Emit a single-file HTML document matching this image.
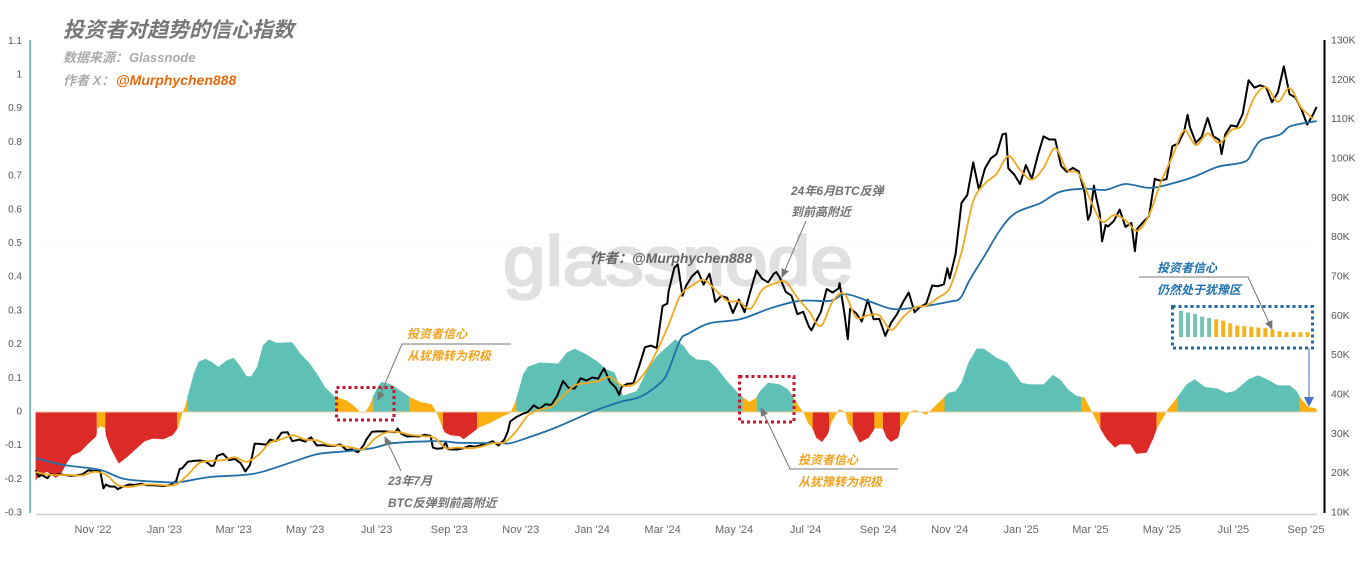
<!DOCTYPE html>
<html lang="zh">
<head>
<meta charset="utf-8">
<title>投资者对趋势的信心指数</title>
<style>
html,body{margin:0;padding:0;background:#fff;width:1368px;height:561px;overflow:hidden}
svg{display:block;filter:blur(.35px)}
text{font-family:"Liberation Sans","Noto Sans CJK SC",sans-serif}
.note{font-size:12px;font-style:italic;font-weight:bold}
.t-org{fill:#f0a21c}.t-gry{fill:#727272}.t-blu{fill:#1a6fae}
.lead{fill:none;stroke:#777;stroke-width:1}
</style>
</head>
<body>
<svg id="chart" xmlns="http://www.w3.org/2000/svg" width="1368" height="561" viewBox="0 0 1368 561">
<defs>
<marker id="ah" markerWidth="10" markerHeight="10" refX="8" refY="4" orient="auto" markerUnits="userSpaceOnUse"><path d="M0,0 L9,4 L0,8 Z" fill="#777"/></marker>
<marker id="ahb" markerWidth="12" markerHeight="10" refX="9" refY="5" orient="auto" markerUnits="userSpaceOnUse"><path d="M0,0 L10,5 L0,10 Z" fill="#4472c4"/></marker>
</defs>
<rect width="1368" height="561" fill="#fff"/>
<g id="grid"></g>
<text x="503" y="285" font-size="70" textLength="350" lengthAdjust="spacingAndGlyphs" fill="#e0e0e0" stroke="#e0e0e0" stroke-width="2.4">glassnode</text>
<g id="area"></g>
<g id="lines"></g>
<g id="axes"></g>

<text x="63" y="37" font-size="21" font-weight="bold" font-style="italic" fill="#777">投资者对趋势的信心指数</text>
<text x="63" y="62" font-size="13" font-weight="bold" font-style="italic" fill="#aaa">数据来源：<tspan dx="1">Glassnode</tspan></text>
<text x="63" y="85" font-size="13" font-style="italic" font-weight="bold" fill="#aaa">作者 X：</text>
<text x="116" y="85" font-size="14" font-style="italic" font-weight="bold" fill="#e8690c">@Murphychen888</text>
<text x="590" y="263" font-size="14" font-style="italic" font-weight="bold" fill="#666">作者：@Murphychen888</text>

<g>
<text class="note t-org" x="407" y="338">投资者信心</text>
<text class="note t-org" x="407" y="360">从犹豫转为积极</text>
<polyline class="lead" points="511,344 402,344 378,400" marker-end="url(#ah)"/>
<rect x="336.5" y="387.5" width="57.5" height="32.5" fill="none" stroke="#c8142e" stroke-width="3" stroke-dasharray="3 3"/>
</g>
<g>
<text class="note t-gry" x="388" y="485">23年7月</text>
<text class="note t-gry" x="388" y="507">BTC反弹到前高附近</text>
<line class="lead" x1="401" y1="471" x2="385" y2="437" marker-end="url(#ah)"/>
</g>
<g>
<text class="note t-gry" x="791" y="195">24年6月BTC反弹</text>
<text class="note t-gry" x="791" y="216">到前高附近</text>
<line class="lead" x1="806" y1="221" x2="782" y2="277" marker-end="url(#ah)"/>
</g>
<g>
<rect x="739.5" y="376.5" width="54.5" height="45.5" fill="none" stroke="#c8142e" stroke-width="3" stroke-dasharray="3 3"/>
<text class="note t-org" x="798" y="464">投资者信心</text>
<text class="note t-org" x="798" y="486">从犹豫转为积极</text>
<polyline class="lead" points="898,469 790,469 761,408" marker-end="url(#ah)"/>
</g>
<g>
<text class="note t-blu" x="1157" y="272">投资者信心</text>
<text class="note t-blu" x="1157" y="294">仍然处于犹豫区</text>
<polyline class="lead" points="1139,277 1248,277 1272,329" marker-end="url(#ah)"/>
<rect x="1172.5" y="306.5" width="140" height="41.5" fill="none" stroke="#1f6aa5" stroke-width="3" stroke-dasharray="3 3"/>
<line x1="1309" y1="348" x2="1309" y2="406" stroke="#4472c4" stroke-width="1" marker-end="url(#ahb)"/>
</g>
<g id="mini"></g>
</svg>
<script>
// ---- categories and tick labels ----
const monthTickDays = [0,61,120,181,242,304,365,426,486,547,608,670,731,792,851,912,973,1035];
const monthTickLabels = ["Nov '22","Jan '23","Mar '23","May '23","Jul '23","Sep '23","Nov '23","Jan '24","Mar '24","May '24","Jul '24","Sep '24","Nov '24","Jan '25","Mar '25","May '25","Jul '25","Sep '25"];
const leftTicks = [1.1,1,0.9,0.8,0.7,0.6,0.5,0.4,0.3,0.2,0.1,0,-0.1,-0.2,-0.3];
const rightTicks = [130,120,110,100,90,80,70,60,50,40,30,20,10];

// ---- confidence index (left axis); days counted from 1 Nov 2022 ----
const confidenceDays = [-49,-44,-39,-32,-28,-22,-18,-11,-4,2,3,3.5,7,10.5,11,14.5,19,22,29,37,44,51,60,68,73,76,78.5,81,86,90,96,101,107,114,120,125,131,135,140,145,150,157,162,170,177,185,191,198,206,216,222,228,232,236,239,243,246,253,260,270,279,289,293,297.5,300,305,313,316,322,329,339,347,356,360,363,367,371,381,397,404,411,421,430,438,445,450,452,464,474,481,489,497,504,509,515,525,532,541,551,555,560,566,569,576,586,593,598,602,606,610,614,617,622,627,630,635,637,642,644,648,652,654,662,667,674,677,681,687,689,694,697,701,706,711,717,726,730,736,741,747,754,760,771,780,787,792,799,811,819,825,832,839,846,852,859,865,872,876,885,890,899,905,908,915,917,926,933,940,949,959,967,974,986,994,1003,1011,1021,1027,1031,1037,1044];
const confidenceValues = [-.203,-.183,-.178,-.195,-.188,-.149,-.129,-.119,-.094,-.075,-.07,-.049,-.042,-.049,-.07,-.104,-.134,-.153,-.134,-.109,-.087,-.079,-.081,-.069,-.045,-.005,.015,.05,.114,.149,.158,.149,.134,.153,.161,.139,.106,.106,.134,.198,.215,.205,.206,.207,.173,.144,.114,.074,.046,.035,.02,0,-.002,.02,.047,.074,.089,.084,.069,.045,.03,.023,0,-.04,-.06,-.069,-.072,-.081,-.066,-.047,-.032,-.017,-.003,.028,.062,.112,.134,.147,.144,.176,.188,.171,.151,.127,.117,.072,.048,.062,.132,.166,.191,.216,.196,.171,.156,.153,.132,.092,.054,.043,.03,.043,.062,.087,.082,.067,.043,.018,0,-.032,-.049,-.076,-.089,-.066,-.032,0,.008,0,-.032,-.048,-.076,-.091,-.076,-.049,-.049,-.076,-.089,-.076,-.048,-.022,0,.006,0,-.009,.013,.043,.057,.062,.087,.147,.188,.188,.161,.147,.112,.087,.082,.082,.11,.097,.067,.048,.043,.003,-.047,-.081,-.106,-.096,-.096,-.124,-.121,-.076,-.047,-.007,.008,.048,.082,.097,.074,.07,.057,.062,.097,.109,.095,.079,.079,.062,.038,.015,.01];

// ---- BTC price in thousands (right axis) ----
const btcDays = [-49,-46,-44,-39,-36,-34,-29,-24,-19,-14,-9,-4,1,6,9,11,14,19,21,26,31,36,41,46,51,56,61,66,71,74,76,81,86,91,96,101,103,106,111,116,121,126,130,134,136,138,143,148,151,156,161,166,170,176,181,186,191,196,201,206,211,216,221,226,231,233,238,243,248,253,258,260,263,268,273,278,283,288,290,293,298,301,303,306,311,316,321,326,331,336,341,346,351,354,356,361,366,371,376,381,386,391,396,401,406,411,416,421,426,431,436,441,446,449,451,456,461,466,471,476,481,486,490,491,496,499,503,506,511,516,521,526,531,536,541,546,551,556,561,566,571,576,581,583,586,591,596,601,606,611,613,616,621,626,631,636,637,641,644,646,651,656,661,666,671,676,681,686,691,696,701,706,711,716,721,726,729,731,736,741,746,751,756,761,766,771,776,779,781,786,791,796,801,806,811,816,821,826,831,836,841,846,849,851,854,856,859,861,864,866,871,876,881,886,889,891,896,901,906,911,916,921,926,931,934,936,941,946,951,956,961,963,966,971,976,981,986,991,996,1001,1006,1011,1016,1021,1026,1031,1036,1041,1044];
const btcPrices = [20.6,19,19.5,18.6,19.6,19.4,19.6,19.4,19.2,19.3,19.6,20.6,20.4,20.6,16,17,16.5,16.4,15.8,16.5,17,16.9,17.2,16.8,16.8,16.7,16.6,16.9,17.9,20.9,21.1,22.8,23,23.1,22.9,21.7,21.8,24.3,24.8,23.2,23.5,22.4,20.3,22,24.5,27.4,27.3,27.1,28.4,28,30.2,30.3,28,28.4,27.9,29,26.9,27,26.8,26.8,27.2,25.8,25.9,25.2,27,28.3,30.4,30.5,30.5,30.4,30.3,31.2,29.9,29.2,29.3,29.2,29.6,29.4,26.4,26.1,26.2,27.7,26,25.9,25.9,26.2,26.8,26.6,27,27.4,28,26.9,28.4,30.5,33,34.1,34.9,35.4,37.1,36.2,37.4,37.2,39.5,43.3,41.5,41.4,44,43.4,44.2,43.9,46.5,43.1,41.6,39.8,41.8,42.6,42.7,47.1,51.9,52.3,51.7,62.4,63,66,72.1,73,65,67.5,69.9,71.3,67.8,70.6,63.4,64.9,64.5,60.6,64,60.8,66.2,71.4,69.3,68.4,70.6,71,69.6,66,65,60.3,60.9,57,56.2,58,60.8,66.7,65.8,66.8,68.2,60.7,53.9,61.7,60.6,58.4,64,59,59.1,54.8,58.1,60.3,63.3,65.8,60.8,62.2,63,67.6,67.4,67.9,72,69.4,75.6,88.6,90.6,98.9,91.9,97.3,99.9,101,106,106.2,97.4,95.8,93.4,98.2,94.7,100.5,105.5,104.7,104.7,98,96.5,97.5,96.6,91.4,84.3,85.8,93,90,86,78.8,83,82.6,84,86.9,82.5,83.5,76.3,82,83.7,85.2,94.7,94.2,94.7,103,103.7,106.8,111,107.8,103.9,105.4,110.2,105.5,104.6,101,106,108.3,108,111.2,119.8,117.9,118.5,117.9,114.2,116.7,123.3,116.2,115.4,112.5,108.5,111.1,113];

// ---- short moving average in thousands, one value every 10 days from day -49 ----
const shortAvgStartDay = -49;
const shortAvgStepDays = 10;
const shortAvgPrices = [20.2,19.5,19.4,19.4,19.3,20.2,19.5,16.9,16.4,16.9,17,16.8,17,19.5,22.5,23,23.2,23.9,22.8,24.5,27.6,28.5,29.5,28.4,28.2,27.1,26.9,26.4,26,28.8,30.3,30.3,29.6,29.3,28.9,26.3,26.4,26.2,26.6,27.5,27.7,30.5,34.5,36,36.8,39.5,42.2,42.8,43.3,44.3,42.2,42.4,45.5,50.8,57.5,65,67.5,69,66.5,63.7,63.5,61.7,66.5,68,68.5,64.5,61,57.3,63.5,65.5,59.5,60,60,56.3,59.5,62,62.5,64.5,67,76,89,93.5,96,100.5,97,94.5,97.5,102.5,97,96,89.3,83.8,85.5,84.2,81.5,85.5,93.7,100.4,107,103.3,106.3,103.8,107,108.5,115.5,118,114.3,117.8,112.8,110];

// ---- long moving average in thousands ----
const longAvgDays = [-49,-26,6,27,61,74,100,137,168,191,215,238,256,288,302,313,347,356,373,396,426,450,467,484,491,501,509,526,552,578,603,629,642,663,683,706,731,740,748,761,774,787,808,825,846,864,881,902,923,940,960,983,991,997,1013,1021,1034,1044];
const longAvgPrices = [23.7,22,20.7,18.4,17.6,17.6,18.9,19.7,22.5,24.7,25.4,26.2,27.5,28,27.9,27.6,27.5,27.5,29.1,31.6,35.5,38,39.3,42.8,46,53.7,55.5,58,59,61.8,63.7,63.7,65.4,63.5,61.6,62.2,63.5,64.4,69,75.3,81.7,86,88.5,91.4,92.2,91.9,93.4,92.4,93.7,95.3,97.8,99.1,102.5,104.6,106,108,108.9,109.4];

// ---- zoomed inset bars, last 19 readings of the index (in thousandths) ----
const insetValues = [77,72,68,60,56,52,48,40,34,32,30,28,26,22,17,14,14,14,14];

// ---- scales ----
const svg = document.getElementById('chart');
const NS = 'http://www.w3.org/2000/svg';
const xDay = d => 93 + d * 1.172;
const yLeft = v => 412 - v * 337;
const yRight = k => 512 - (k - 10) * 3.933;

function mk(tag, attrs, parent){
  const el = document.createElementNS(NS, tag);
  for (const k in attrs) el.setAttribute(k, attrs[k]);
  parent.appendChild(el);
  return el;
}
function smooth(pts){
  let d = 'M' + pts[0][0].toFixed(1) + ',' + pts[0][1].toFixed(1);
  for (let i = 0; i < pts.length - 1; i++){
    const p0 = pts[Math.max(i-1,0)], p1 = pts[i], p2 = pts[i+1], p3 = pts[Math.min(i+2,pts.length-1)];
    const c1x = p1[0] + (p2[0]-p0[0])/6, c1y = p1[1] + (p2[1]-p0[1])/6;
    const c2x = p2[0] - (p3[0]-p1[0])/6, c2y = p2[1] - (p3[1]-p1[1])/6;
    d += 'C' + c1x.toFixed(1) + ',' + c1y.toFixed(1) + ' ' + c2x.toFixed(1) + ',' + c2y.toFixed(1) + ' ' + p2[0].toFixed(1) + ',' + p2[1].toFixed(1);
  }
  return d;
}

// ---- grid ----
const gridG = document.getElementById('grid');
leftTicks.forEach(v => {
  const g = mk('line', {x1:36, x2:1317, y1:yLeft(v), y2:yLeft(v), stroke:'#fbfbfb', 'stroke-width':1}, gridG);
  
  
});

// ---- area, one segment per colour band ----
const TEAL = '#5fc1b5', RED = '#dc2a27', AMBER = '#fbb00f';
const bandColor = v => v >= 0.045 ? TEAL : (v <= -0.05 ? RED : AMBER);
function valueAt(day){
  let i = 1;
  while (i < confidenceDays.length - 1 && confidenceDays[i] < day) i++;
  const d0 = confidenceDays[i-1], d1 = confidenceDays[i];
  const t = Math.max(0, Math.min(1, (day - d0) / (d1 - d0)));
  return confidenceValues[i-1] + (confidenceValues[i] - confidenceValues[i-1]) * t;
}
const areaG = document.getElementById('area');
const firstDay = confidenceDays[0], lastDay = confidenceDays[confidenceDays.length - 1];
let seg = [], segColor = null;
function flush(){
  if (!seg.length) return;
  const x0 = xDay(seg[0][0]), x1 = xDay(seg[seg.length-1][0]);
  let d = 'M' + x0.toFixed(1) + ',' + yLeft(0);
  seg.forEach(p => { d += 'L' + xDay(p[0]).toFixed(1) + ',' + yLeft(p[1]).toFixed(1); });
  d += 'L' + x1.toFixed(1) + ',' + yLeft(0) + 'Z';
  const a = mk('path', {d:d, fill:segColor}, areaG);
  
  
}
for (let day = firstDay; day <= lastDay + 0.001; day += 0.25){
  const v = valueAt(day), c = bandColor(v);
  if (c !== segColor){
    const keep = seg.length ? seg[seg.length-1] : null;
    flush();
    seg = keep ? [[keep[0] , v]] : [];
    segColor = c;
  }
  seg.push([day, v]);
}
flush();
const baseLine = mk('line', {x1:xDay(firstDay), x2:xDay(lastDay), y1:yLeft(0), y2:yLeft(0), stroke:'#e6cf9c', 'stroke-width':1}, areaG);



// ---- lines ----
const linesG = document.getElementById('lines');
const blackPts = btcDays.map((d,i) => xDay(d).toFixed(1) + ',' + yRight(btcPrices[i]).toFixed(1)).join(' ');
const bl = mk('polyline', {points:blackPts, fill:'none', stroke:'#000', 'stroke-width':2, 'stroke-linejoin':'round'}, linesG);



const longPts = longAvgDays.map((d,i) => [xDay(d), yRight(longAvgPrices[i])]);
const lo = mk('path', {d:smooth(longPts), fill:'none', stroke:'#1f6ea8', 'stroke-width':1.8}, linesG);



const shortPts = shortAvgPrices.map((p,i) => [xDay(shortAvgStartDay + i * shortAvgStepDays), yRight(p)]);
const sh = mk('path', {d:smooth(shortPts), fill:'none', stroke:'#f0a81e', 'stroke-width':1.8}, linesG);



// ---- axes ----
const axesG = document.getElementById('axes');
const la = mk('line', {x1:30, x2:30, y1:40, y2:513, stroke:'#7fc5b9', 'stroke-width':2}, axesG);


const ra = mk('line', {x1:1324.5, x2:1324.5, y1:40, y2:513, stroke:'#000', 'stroke-width':2}, axesG);


const xa = mk('line', {x1:36, x2:1317, y1:514.5, y2:514.5, stroke:'#cfcfcf', 'stroke-width':1.5}, axesG);



leftTicks.forEach(v => {
  const t = mk('text', {x:22, y:yLeft(v) + 2.5, 'text-anchor':'end', 'font-size':10, fill:'#555'}, axesG);
  t.textContent = String(v);
  
  
});
rightTicks.forEach(k => {
  const t = mk('text', {x:1331, y:yRight(k) + 3.5, 'font-size':10.5, fill:'#555'}, axesG);
  t.textContent = k + 'K';
  
  
});
monthTickDays.forEach((d,i) => {
  const t = mk('text', {x:xDay(d), y:533, 'text-anchor':'middle', 'font-size':11, fill:'#666'}, axesG);
  t.textContent = monthTickLabels[i];
  
  
});

// ---- inset bars ----
const miniG = document.getElementById('mini');
insetValues.forEach((v,i) => {
  const h = v * 0.34;
  const b = mk('rect', {x:1179 + i * 7.03, y:337 - h, width:4, height:h, fill: i < 5 ? '#76c3b6' : '#f5b21c'}, miniG);
  
  
});
</script>
</body>
</html>
